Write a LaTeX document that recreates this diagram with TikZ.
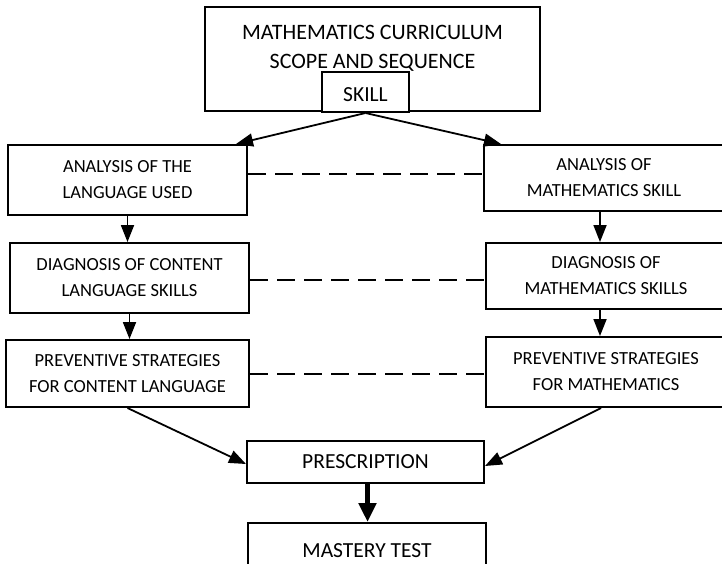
\documentclass[tikz,border=0pt]{standalone}
\usepackage{fontspec}
\setmainfont{Carlito}
\usetikzlibrary{arrows.meta,positioning}
\begin{document}
\begin{tikzpicture}[x=1pt, y=-1pt,
    box/.style={draw=black, line width=2pt, fill=white, minimum width=239pt, minimum height=68pt,
      align=center, inner sep=2pt, font=\fontsize{18.5}{26}\selectfont},
    big/.style={font=\fontsize{21.5}{29}\selectfont},
    flow/.style={line width=1.8pt, -{Triangle[length=17pt,width=13pt]}},
    bigflow/.style={line width=5pt, -{Triangle[length=19pt,width=17pt]}},
    link/.style={line width=2pt, dash pattern=on 18pt off 9pt}]
  % picture in px, y pointing down
  \useasboundingbox (0,0) rectangle (722,563);
  % scope and sequence
  \node[box, minimum width=335pt, minimum height=104pt] (curr) at (372.5,59) {};
  \node[align=center, font=\fontsize{22}{29}\selectfont] (currtxt) at (372.5,48)
    {MATHEMATICS CURRICULUM\\SCOPE AND SEQUENCE};
  \node[box, big, minimum width=87pt, minimum height=40pt, text height=19pt] (skill) at (365.5,92) {SKILL};
  % language side
  \node[box, minimum height=70pt] (lang) at (127.5,180) {ANALYSIS OF THE\\LANGUAGE USED};
  \node[box, minimum height=70pt] (langdiag) at (129.5,278) {DIAGNOSIS OF CONTENT\\LANGUAGE SKILLS};
  \node[box, minimum width=243pt, minimum height=67pt] (langprev) at (127.5,373.5)
    {PREVENTIVE STRATEGIES\\FOR CONTENT LANGUAGE};
  % mathematics side
  \node[box, minimum width=240pt, minimum height=66pt] (math) at (604,178) {ANALYSIS OF\\MATHEMATICS SKILL};
  \node[box, minimum width=240pt, minimum height=66pt] (mathdiag) at (606,276) {DIAGNOSIS OF\\MATHEMATICS SKILLS};
  \node[box, minimum width=240pt, minimum height=70pt] (mathprev) at (606,372)
    {PREVENTIVE STRATEGIES\\FOR MATHEMATICS};
  % outcome
  \node[box, big, minimum width=237pt, minimum height=42pt] (presc) at (365.5,462) {PRESCRIPTION};
  \node[box, big, minimum width=238pt, minimum height=56pt] (mastery) at (367,551) {MASTERY TEST};
  \draw[flow] (skill.south) -- ([xshift=-12pt]lang.north east);
  \draw[flow] (skill.south) -- ([xshift=18pt]math.north west);
  \draw[flow] (lang.south) -- (langdiag.north -| lang.south);
  \draw[flow] (langdiag.south) -- (langprev.north -| langdiag.south);
  \draw[flow] ([xshift=-4pt]math.south) -- ([xshift=-4pt]math.south |- mathdiag.north);
  \draw[flow] ([xshift=-6pt]mathdiag.south) -- ([xshift=-6pt]mathdiag.south |- mathprev.north);
  \draw[link] ([yshift=6pt]lang.east) -- ([yshift=6pt]lang.east -| math.west);
  \draw[link] ([yshift=-2pt]langdiag.east) -- ([yshift=-2pt]langdiag.east -| mathdiag.west);
  \draw[link] (langprev.east) -- (langprev.east -| mathprev.west);
  \draw[flow] (langprev.south) -- ([yshift=-2pt]presc.west);
  \draw[flow] ([xshift=-5pt]mathprev.south) -- ([yshift=-4pt]presc.east);
  \draw[bigflow] ([xshift=2pt]presc.south) -- ([xshift=2pt]presc.south |- mastery.north);
\end{tikzpicture}
\end{document}
